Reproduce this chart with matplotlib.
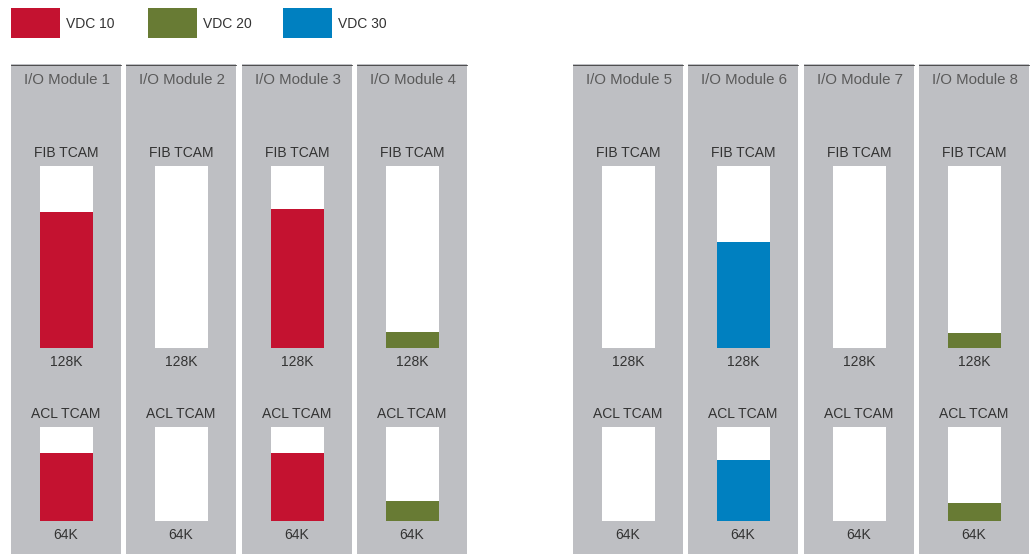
import matplotlib
matplotlib.use("Agg")
import matplotlib.pyplot as plt
from matplotlib.patches import Rectangle

modules = ["I/O Module 1", "I/O Module 2", "I/O Module 3", "I/O Module 4",
           "I/O Module 5", "I/O Module 6", "I/O Module 7", "I/O Module 8"]
vdc_names = ["VDC 10", "VDC 20", "VDC 30"]
vdc_colors = ["#C41230", "#687B34", "#0080C0"]

# fraction of TCAM used, per module: (vdc index or None, fraction)
fib_vdc = [0, None, 0, 1, None, 2, None, 1]
fib_used = [0.75, 0.0, 0.765, 0.09, 0.0, 0.58, 0.0, 0.08]
acl_vdc = [0, None, 0, 1, None, 2, None, 1]
acl_used = [0.72, 0.0, 0.72, 0.21, 0.0, 0.65, 0.0, 0.19]
fib_capacity = "128K"
acl_capacity = "64K"

W, H = 1031, 554
fig = plt.figure(figsize=(W / 100, H / 100), dpi=100)
ax = fig.add_axes([0, 0, 1, 1])
ax.set_xlim(0, W)
ax.set_ylim(H, 0)
ax.axis("off")

font = ["Liberation Sans", "DejaVu Sans"]
gray = "#BEBFC3"
txt = "#333333"

# legend
leg_x = [11, 148, 283]
for name, col, lx in zip(vdc_names, vdc_colors, leg_x):
    ax.add_patch(Rectangle((lx, 8), 49, 30, facecolor=col, edgecolor="none"))
    ax.text(lx + 55, 24, name, fontsize=10, color=txt, va="center", ha="left", family=font)

panel_left = [11, 126, 242, 357, 573, 688, 804, 919]
panel_w = 110
bar_w = 53
fib_top, fib_bot = 166, 348
acl_top, acl_bot = 427, 521

for i, name in enumerate(modules):
    px = panel_left[i]
    cx = px + panel_w / 2
    ax.add_patch(Rectangle((px, 64), panel_w, H - 64, facecolor=gray, edgecolor="none"))
    ax.plot([px, px + panel_w], [64.5, 64.5], color="#3a3a3a", lw=0.6)
    ax.text(cx + 1, 80, name, fontsize=10.8, color="#5a5a5a", ha="center", va="center", family=font)
    ax.text(cx, 153, "FIB TCAM", fontsize=10, color=txt, ha="center", va="center", family=font)
    ax.text(cx, 362, fib_capacity, fontsize=10, color=txt, ha="center", va="center", family=font)
    ax.text(cx, 414, "ACL TCAM", fontsize=10, color=txt, ha="center", va="center", family=font)
    ax.text(cx, 535, acl_capacity, fontsize=10, color=txt, ha="center", va="center", family=font)

    # white capacity boxes
    ax.bar(cx, -(fib_bot - fib_top), bottom=fib_bot, width=bar_w, color="white", edgecolor="none")
    ax.bar(cx, -(acl_bot - acl_top), bottom=acl_bot, width=bar_w, color="white", edgecolor="none")
    # used portions
    if fib_vdc[i] is not None and fib_used[i] > 0:
        ax.bar(cx, -fib_used[i] * (fib_bot - fib_top), bottom=fib_bot, width=bar_w,
               color=vdc_colors[fib_vdc[i]], edgecolor="none")
    if acl_vdc[i] is not None and acl_used[i] > 0:
        ax.bar(cx, -acl_used[i] * (acl_bot - acl_top), bottom=acl_bot, width=bar_w,
               color=vdc_colors[acl_vdc[i]], edgecolor="none")

fig.savefig("out.png", dpi=100, facecolor="white")
